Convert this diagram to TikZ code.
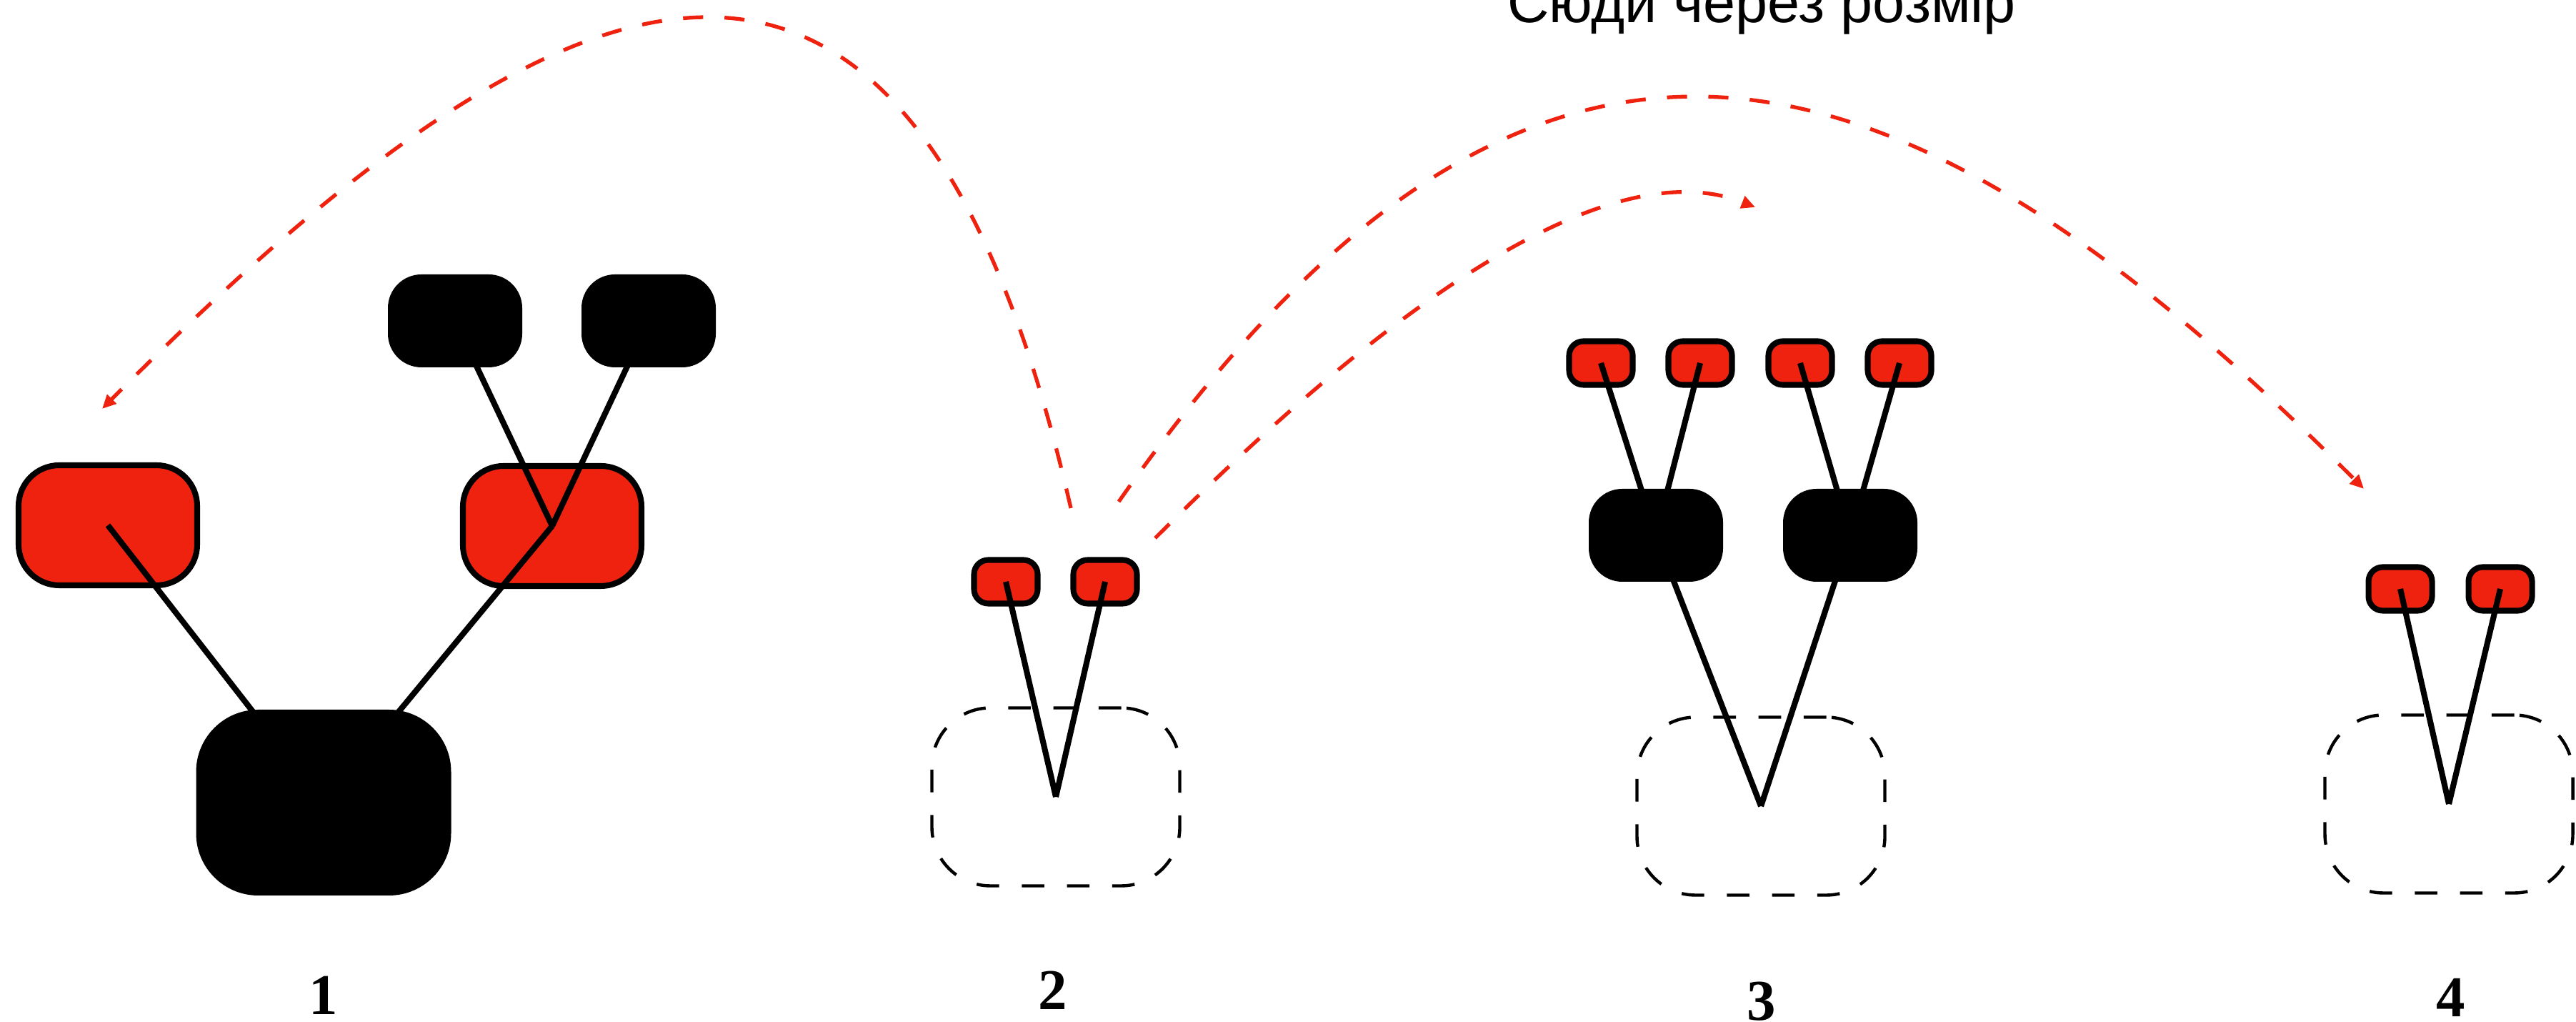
\documentclass[tikz,border=0pt]{standalone}
\usepackage{fontspec}
\setmainfont{Liberation Serif}
\newfontfamily\arial{Liberation Sans}
\usetikzlibrary{arrows.meta}
\definecolor{nred}{RGB}{238,34,14}
\pgfdeclarelayer{front}
\pgfsetlayers{main,front}

\begin{document}
\begin{tikzpicture}[>={Triangle[length=5.5pt,width=5pt]},
    redbig/.style={draw,line width=2.3pt,fill=nred,rounded corners=0.57cm,minimum width=2.50cm,minimum height=1.68cm},
    redsmall/.style={draw,line width=2.3pt,fill=nred,rounded corners=0.2cm,minimum width=0.89cm,minimum height=0.61cm},
    blk/.style={fill=black,rounded corners=0.47cm,minimum width=1.88cm,minimum height=1.3cm},
    blkbig/.style={fill=black,rounded corners=0.87cm,minimum width=3.57cm,minimum height=2.6cm},
    slot/.style={draw,line width=1.25pt,dash pattern=on 9pt off 9pt,rounded corners=0.82cm,minimum width=3.47cm,minimum height=2.49cm},
    link/.style={line width=2.3pt},
    move/.style={->,nred,line width=1.5pt,dash pattern=on 8pt off 8.5pt},
    num/.style={font=\fontsize{23}{23}\selectfont\bfseries,anchor=base}]
    \useasboundingbox (0,0) rectangle (36.06,14.3);
    % black nodes sit above the links
    \begin{pgfonlayer}{front}
        \node[blkbig] (e) at (4.53,3.07) {};
        \node[blk] (c) at (6.37,9.81) {};
        \node[blk] (d) at (9.08,9.81) {};
        \node[blk] (f) at (23.18,6.81) {};
        \node[blk] (g) at (25.90,6.81) {};
    \end{pgfonlayer}
    \node[redbig] (a) at (1.51,6.95) {};
    \node[redbig] (b) at (7.73,6.94) {};
    \node[redsmall] (p1) at (14.08,6.16) {};
    \node[redsmall] (p2) at (15.47,6.16) {};
    \foreach \i/\x in {1/22.41,2/23.80,3/25.20,4/26.59}
        \node[redsmall] (q\i) at (\x,9.22) {};
    \node[redsmall] (r1) at (33.60,6.06) {};
    \node[redsmall] (r2) at (35.00,6.06) {};
    \node[slot] (s2) at (14.78,3.15) {};
    \node[slot] (s3) at (24.65,3.02) {};
    \node[slot] (s4) at (34.28,3.05) {};
    \draw[link] (a.center)--(e.center) (b.center)--(e.center) (c.center)--(b.center) (d.center)--(b.center);
    \draw[link] (p1.center)--(s2.center) (p2.center)--(s2.center);
    \draw[link] (q1.center)--(f.center) (q2.center)--(f.center) (q3.center)--(g.center) (q4.center)--(g.center);
    \draw[link] (f.center)--(s3.center) (g.center)--(s3.center);
    \draw[link] (r1.center)--(s4.center) (r2.center)--(s4.center);
    % dashed moves
    \coordinate (m1) at (14.99,7.19);
    \coordinate (t1) at (1.43,8.58);
    \coordinate (m2) at (15.66,7.28);
    \coordinate (t2) at (33.09,7.46);
    \coordinate (m3) at (16.17,6.77);
    \coordinate (t3) at (24.57,11.40);
    \draw[move] (m1) .. controls (12.72,17.08) and (7.94,15.11) .. (t1);
    \draw[move] (m2) .. controls (21.51,15.64) and (26.65,13.90) .. (t2);
    \draw[move] (m3) .. controls (20.67,11.27) and (23.08,11.99) .. (t3);
    \node[font=\arial\fontsize{23}{23}\selectfont,anchor=base] (note) at (24.66,13.98) {Сюди через розмір};
    \foreach \i/\x/\y in {1/4.53/0.10,2/14.74/0.17,3/24.66/0.02,4/34.31/0.07}
        \node[num] (n\i) at (\x,\y) {\i};
\end{tikzpicture}
\end{document}
